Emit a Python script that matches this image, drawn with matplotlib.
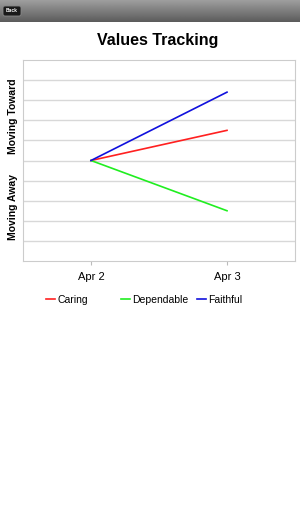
import numpy as np
import matplotlib
matplotlib.use("Agg")
import matplotlib.pyplot as plt
from matplotlib.patches import FancyBboxPatch

plt.rcParams['font.family'] = ['Liberation Sans', 'DejaVu Sans']

dates = ["Apr 2", "Apr 3"]
caring = [0, 1.5]
dependable = [0, -2.5]
faithful = [0, 3.4]
series_names = ["Caring", "Dependable", "Faithful"]
series_colors = ["#ff2020", "#20ee20", "#1010dd"]

W, H = 300, 513
fig = plt.figure(figsize=(W / 100, H / 100), dpi=100)
fig.patch.set_facecolor("white")

# top bar
bar = fig.add_axes([0, 1 - 22 / H, 1, 22 / H])
grad = np.linspace(0.62, 0.36, 50).reshape(-1, 1)
bar.imshow(grad, cmap="gray", vmin=0, vmax=1, aspect="auto", extent=[0, W, 0, 22])
bar.set_xlim(0, W)
bar.set_ylim(0, 22)
bar.axis("off")
bar.add_patch(FancyBboxPatch((5, 8), 14, 6, boxstyle="round,pad=2",
                             fc="#1a1a1a", ec="#888888", lw=0.6))
bar.text(12, 11, "Back", color="white", fontsize=3.5, fontweight="bold",
         ha="center", va="center")

fig.text(158 / W, 1 - 41 / H, "Values Tracking", fontsize=11.5, fontweight="bold",
         ha="center", va="center")

ax = fig.add_axes([23 / W, 1 - 261 / H, 272 / W, 201 / H])
x = np.arange(len(dates))
lines = []
for vals, name, c in zip([caring, dependable, faithful], series_names, series_colors):
    ln, = ax.plot(x, vals, color=c, lw=1.2, label=name)
    lines.append(ln)

ax.set_xlim(-0.5, 1.5)
ax.set_ylim(-5, 5)
ax.set_yticks(np.arange(-4, 5, 1))
ax.set_yticklabels([])
ax.tick_params(axis="y", length=0)
ax.yaxis.grid(True, color="#d8d8d8", lw=1)
ax.set_axisbelow(True)
ax.set_xticks(x)
ax.set_xticklabels(dates, fontsize=8)
ax.tick_params(axis="x", length=3, color="#bbbbbb", pad=5)
for s in ax.spines.values():
    s.set_color("#cccccc")
    s.set_linewidth(0.8)

fig.text(13 / W, 1 - 116 / H, "Moving Toward", rotation=90, fontsize=7.5,
         fontweight="bold", ha="center", va="center")
fig.text(13 / W, 1 - 207 / H, "Moving Away", rotation=90, fontsize=7.5,
         fontweight="bold", ha="center", va="center")

# legend entries sit in fixed-width slots
for ln, lx in zip(lines, [46, 121, 197]):
    fig.legend([ln], [ln.get_label()], loc="center left",
               bbox_to_anchor=(lx / W, 1 - 300 / H), frameon=False, fontsize=7.5,
               handlelength=0.9, handletextpad=0.2, borderpad=0, borderaxespad=0)

fig.savefig("out.png", dpi=100)
